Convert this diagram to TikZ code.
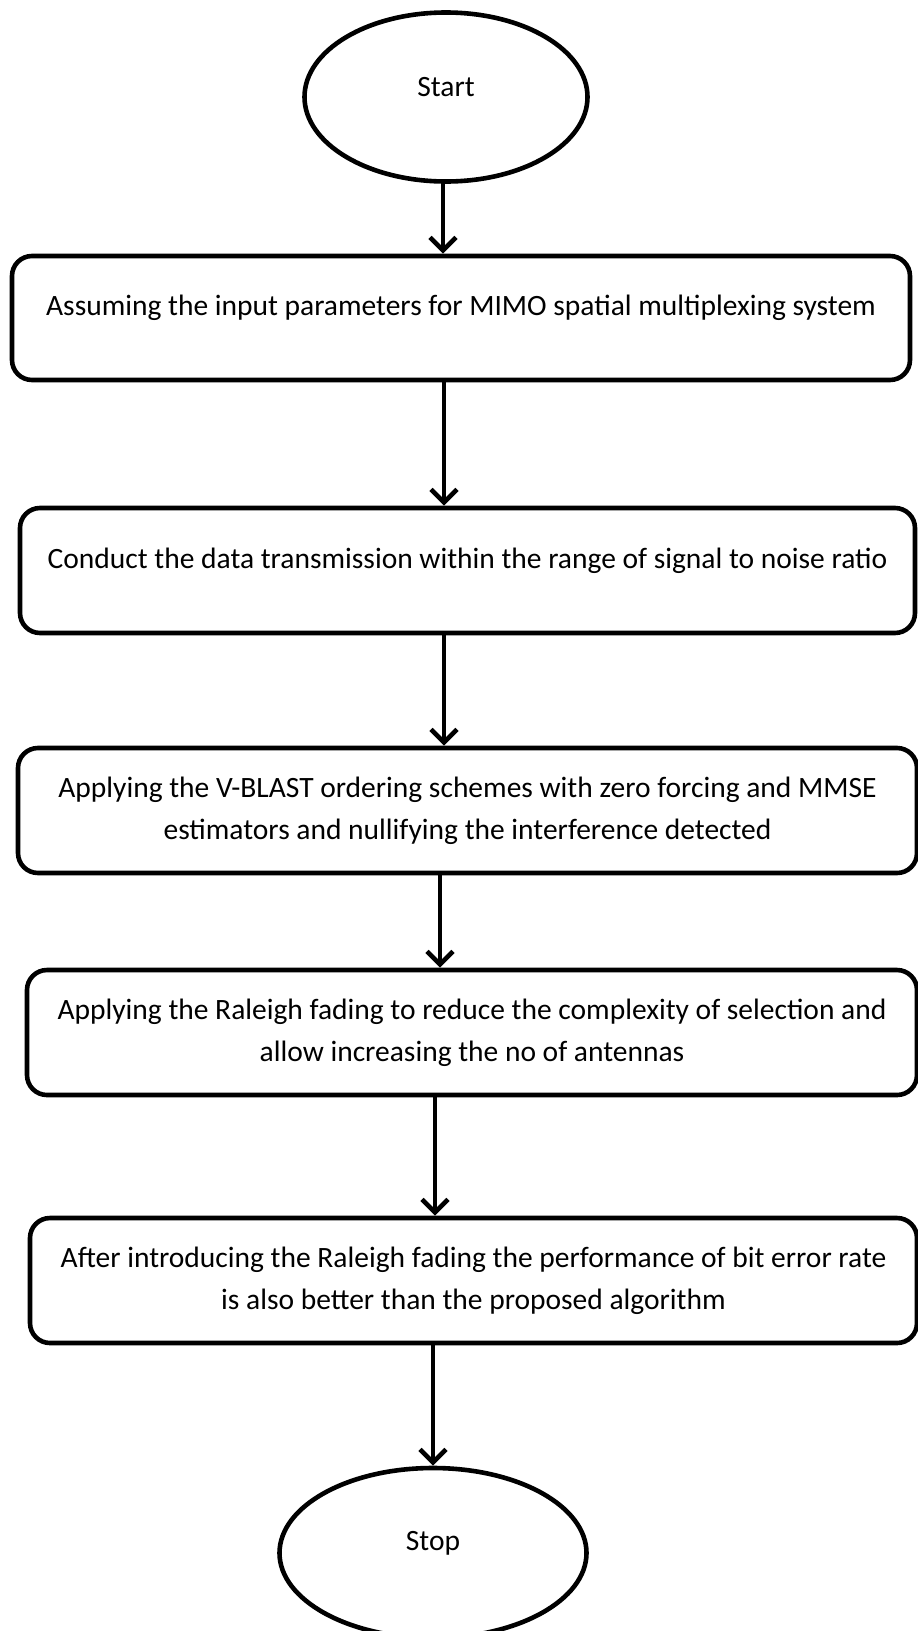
\documentclass[tikz,border=0pt]{standalone}
\usepackage{fontspec}
\setmainfont{Carlito}
\usetikzlibrary{arrows.meta,shapes.geometric}
\tikzset{
  lw/.style={line width=4.6pt},
  term/.style={ellipse,draw,lw,inner sep=0pt,font=\fontsize{29.5}{42}\selectfont},
  procbox/.style={rectangle,rounded corners=20pt,draw,lw,inner sep=0pt,minimum height=125pt,align=center,font=\fontsize{29.5}{42}\selectfont},
  arr/.style={lw,-{Straight Barb[length=13pt,width=26pt]}}
}
\newcommand{\up}[1]{\raisebox{10pt}[\height][\depth]{#1}}
\begin{document}
\begin{tikzpicture}[x=1pt,y=-1pt]
\useasboundingbox (0,0) rectangle (918,1631);
\node[term,minimum width=283pt,minimum height=169pt] (start) at (446,97) {\up{Start}};
\node[procbox,minimum width=898pt,minimum height=124pt] (b1) at (461,318) {\up{Assuming the input parameters for MIMO spatial multiplexing system}};
\node[procbox,minimum width=895pt] (b2) at (467.5,570.5) {\up{Conduct the data transmission within the range of signal to noise ratio}};
\node[procbox,minimum width=899pt] (b3) at (467.5,810.5) {Applying the V-BLAST ordering schemes with zero forcing and MMSE\\estimators and nullifying the interference detected};
\node[procbox,minimum width=890pt] (b4) at (472,1032.5) {Applying the Raleigh fading to reduce the complexity of selection and\\allow increasing the no of antennas};
\node[procbox,minimum width=887pt] (b5) at (473.5,1280.5) {After introducing the Raleigh fading the performance of bit error rate\\is also better than the proposed algorithm};
\node[term,minimum width=307pt,minimum height=170pt] (stop) at (433,1553) {\up{Stop}};
\draw[arr] ([xshift=-3pt]start.south) -- ([xshift=-3pt]start.south |- b1.north);
\draw[arr] ([xshift=-17pt]b1.south) -- ([xshift=-17pt]b1.south |- b2.north);
\draw[arr] ([xshift=-23.5pt]b2.south) -- ([xshift=-23.5pt]b2.south |- b3.north);
\draw[arr] ([xshift=-27.5pt]b3.south) -- ([xshift=-27.5pt]b3.south |- b4.north);
\draw[arr] ([xshift=-37pt]b4.south) -- ([xshift=-37pt]b4.south |- b5.north);
\draw[arr] ([xshift=-40.5pt]b5.south) -- ([xshift=-40.5pt]b5.south |- stop.north);
\end{tikzpicture}
\end{document}
